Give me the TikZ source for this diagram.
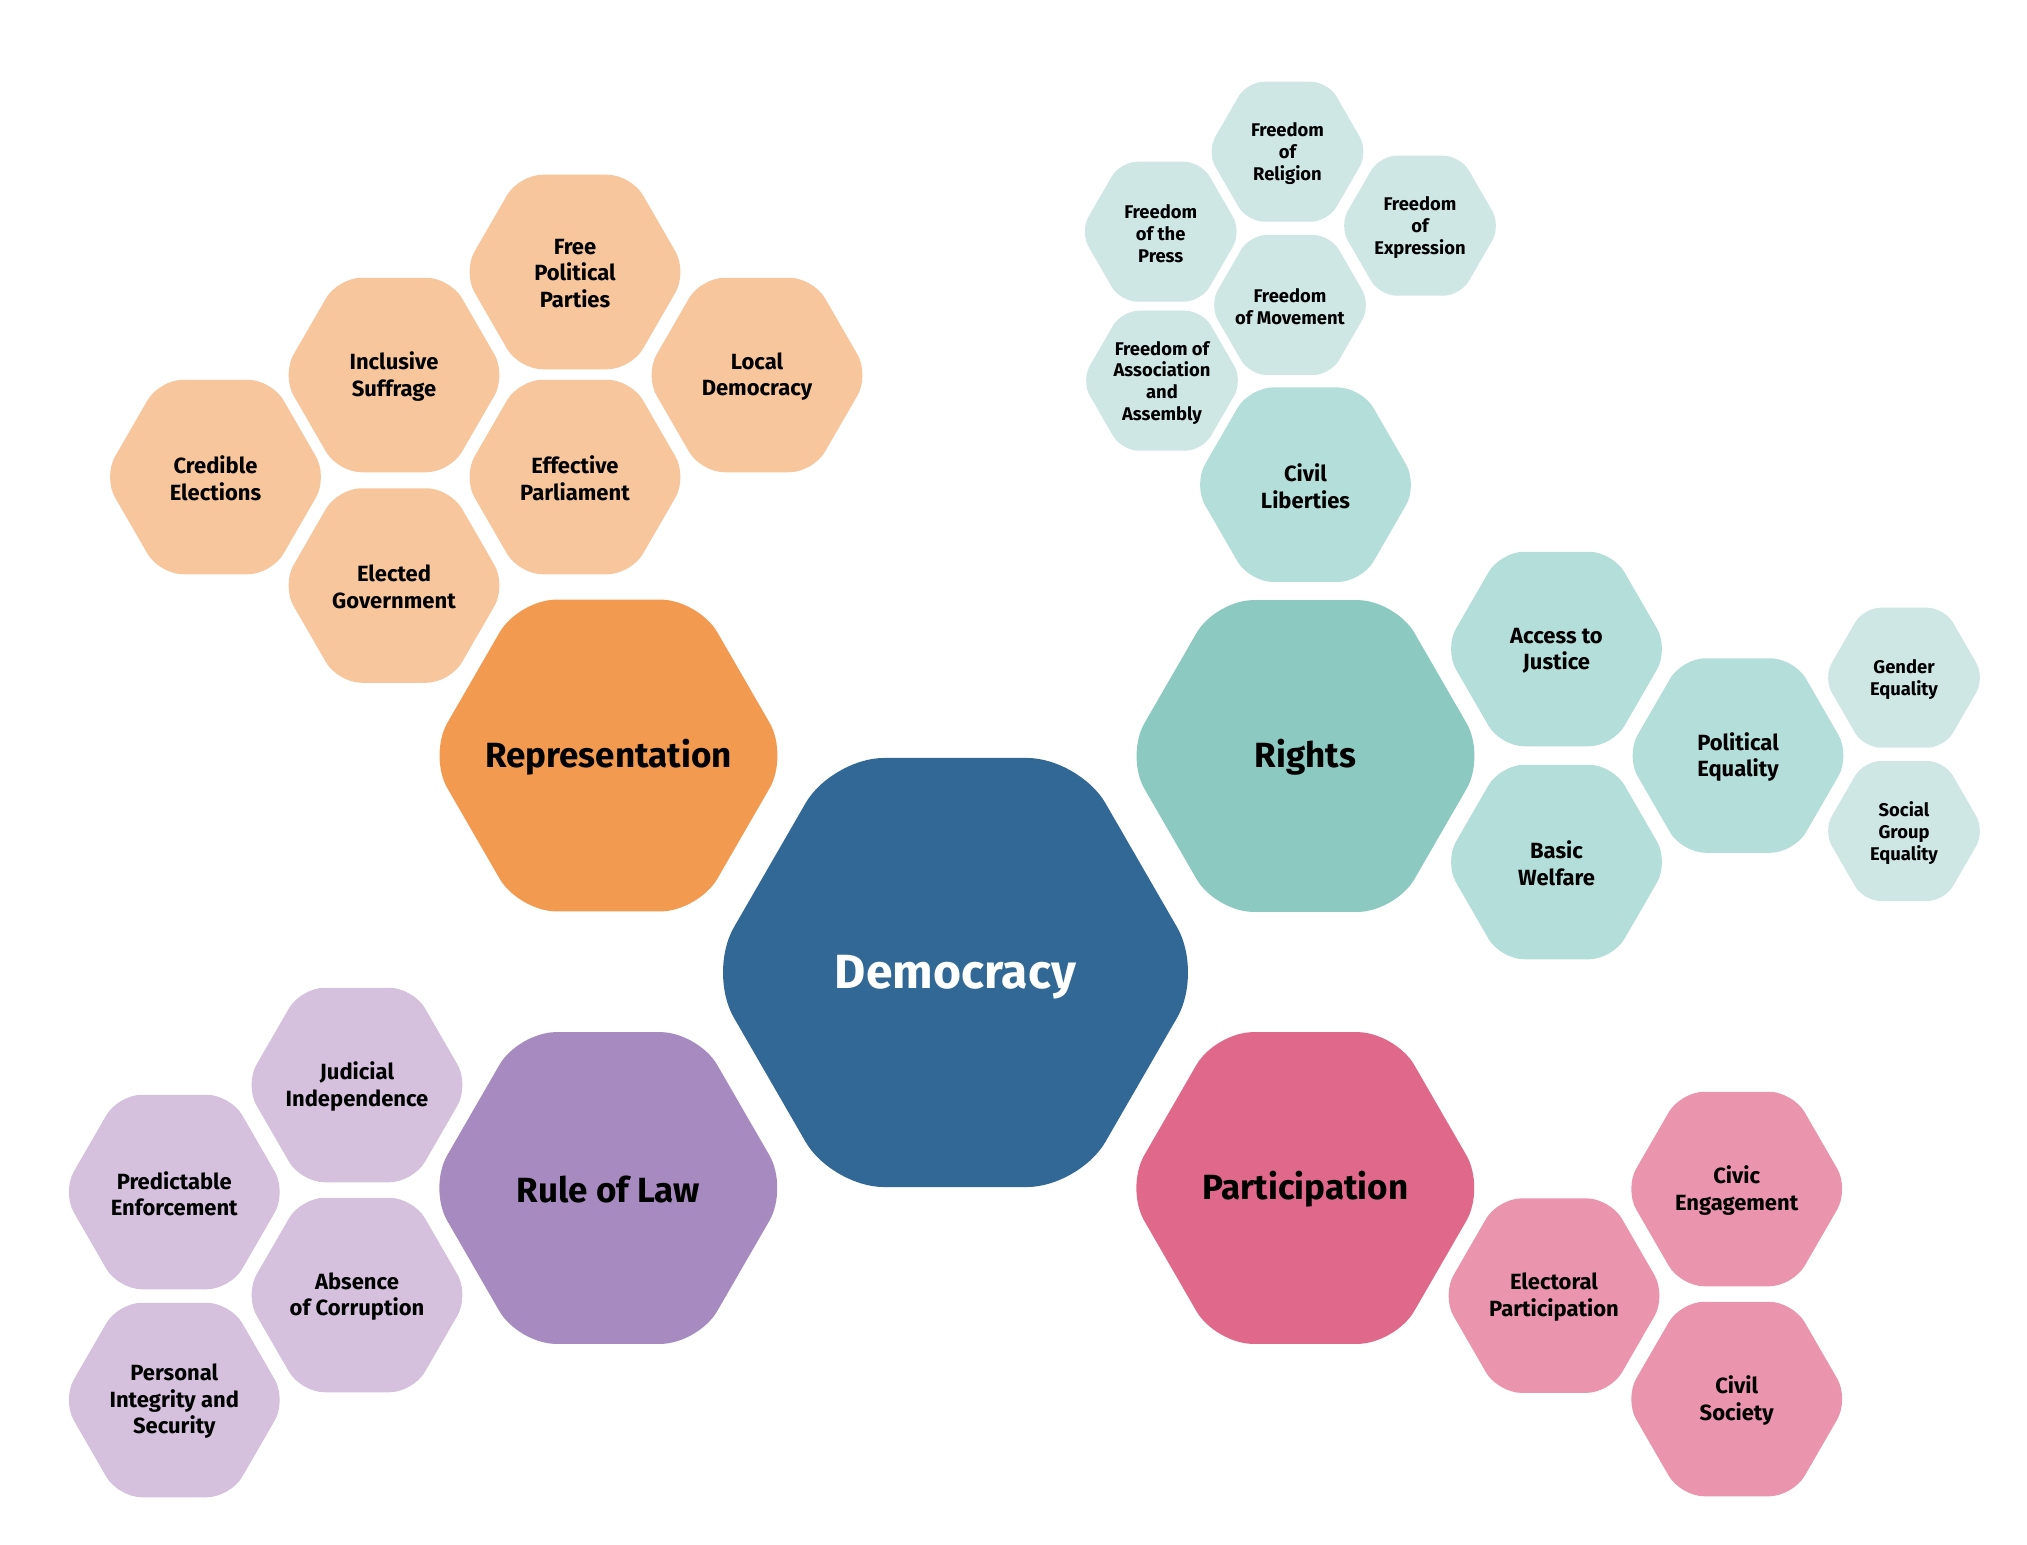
\documentclass[tikz,border=0pt]{standalone}
\usepackage{fontspec}
\setmainfont{Fira Sans}
\definecolor{demoblue}{HTML}{316895}
\definecolor{repdark}{HTML}{F39A51}
\definecolor{replight}{HTML}{F8C69C}
\definecolor{rightsdark}{HTML}{8CCAC1}
\definecolor{rightsmid}{HTML}{B4DEDA}
\definecolor{rightslight}{HTML}{CEE7E4}
\definecolor{lawdark}{HTML}{A78ABF}
\definecolor{lawlight}{HTML}{D5C1DE}
\definecolor{partdark}{HTML}{E0698B}
\definecolor{partlight}{HTML}{EA94AE}
\tikzset{
  hexlabel/.style={align=center, text=black, inner sep=0pt},
  demofont/.style={font=\fontsize{48}{56}\selectfont\bfseries, text=white, yshift=-5pt},
  catfont/.style={font=\fontsize{35}{42}\selectfont\bfseries, yshift=-1.5pt},
  midfont/.style={font=\fontsize{22}{26.5}\selectfont\bfseries, yshift=-1.5pt},
  smallfont/.style={font=\fontsize{18.4}{21.7}\selectfont\bfseries, yshift=-2pt},
}
% #1 name, #2 x, #3 y, #4 circumradius, #5 fill colour, #6 label style, #7 text
\newcommand\hexcell[7]{%
  \fill[#5, rounded corners={0.21*#4}] (#2+#4,#3) -- ++(120:#4) -- ++(180:#4)
      -- ++(240:#4) -- ++(300:#4) -- ++(0:#4) -- cycle;
  \node[hexlabel,#6] (#1) at (#2,#3) {#7};
}
\begin{document}
\begin{tikzpicture}[x=1pt,y=-1pt]
\useasboundingbox (0,0) rectangle (2027,1545);
\fill[white] (0,0) rectangle (2027,1545);

% centre
\hexcell{democracy}{955.5}{972.5}{247.7}{demoblue}{demofont}{Democracy}

% categories
\hexcell{representation}{608.5}{755.5}{180}{repdark}{catfont}{Representation}
\hexcell{rights}{1305.5}{756}{180}{rightsdark}{catfont}{Rights}
\hexcell{ruleoflaw}{608.3}{1188}{180}{lawdark}{catfont}{Rule of Law}
\hexcell{participation}{1305.3}{1188}{180}{partdark}{catfont}{Participation}

% representation
\hexcell{freeparties}{575}{272}{112.3}{replight}{midfont}{Free\\Political\\Parties}
\hexcell{suffrage}{394}{375}{112.3}{replight}{midfont}{Inclusive\\Suffrage}
\hexcell{localdem}{757}{375}{112.3}{replight}{midfont}{Local\\Democracy}
\hexcell{credible}{215.5}{477}{112.3}{replight}{midfont}{Credible\\Elections}
\hexcell{parliament}{575}{477}{112.3}{replight}{midfont}{Effective\\Parliament}
\hexcell{government}{394}{585.5}{112.3}{replight}{midfont}{Elected\\Government}

% rights
\hexcell{civillib}{1305.5}{484.7}{112.3}{rightsmid}{midfont}{Civil\\Liberties}
\hexcell{justice}{1556.5}{649}{112.3}{rightsmid}{midfont}{Access to\\Justice}
\hexcell{welfare}{1556.5}{862}{112.3}{rightsmid}{midfont}{Basic\\Welfare}
\hexcell{poleq}{1738}{755.5}{112.3}{rightsmid}{midfont}{Political\\Equality}
\hexcell{gender}{1904}{677.7}{80.8}{rightslight}{smallfont}{Gender\\Equality}
\hexcell{socialgroup}{1904}{831}{80.8}{rightslight}{smallfont}{Social\\Group\\Equality}
\hexcell{religion}{1287.5}{151.7}{80.8}{rightslight}{smallfont}{Freedom\\of\\Religion}
\hexcell{press}{1160.7}{231.7}{80.8}{rightslight}{smallfont}{Freedom\\of the\\Press}
\hexcell{expression}{1420}{225.7}{80.8}{rightslight}{smallfont}{Freedom\\of\\Expression}
\hexcell{movement}{1290}{305}{80.8}{rightslight}{smallfont}{Freedom\\of Movement}
\hexcell{association}{1162}{380.7}{80.8}{rightslight}{smallfont}{Freedom of\\Association\\and\\Assembly}

% rule of law
\hexcell{judicial}{357}{1085}{112.3}{lawlight}{midfont}{Judicial\\Independence}
\hexcell{predictable}{174.3}{1192}{112.3}{lawlight}{midfont}{Predictable\\Enforcement}
\hexcell{corruption}{357}{1295}{112.3}{lawlight}{midfont}{Absence\\of Corruption}
\hexcell{integrity}{174.3}{1400}{112.3}{lawlight}{midfont}{Personal\\Integrity and\\Security}

% participation
\hexcell{civic}{1736.7}{1189}{112.3}{partlight}{midfont}{Civic\\Engagement}
\hexcell{electoral}{1554}{1295.6}{112.3}{partlight}{midfont}{Electoral\\Participation}
\hexcell{civilsoc}{1736.7}{1399}{112.3}{partlight}{midfont}{Civil\\Society}
\end{tikzpicture}
\end{document}
